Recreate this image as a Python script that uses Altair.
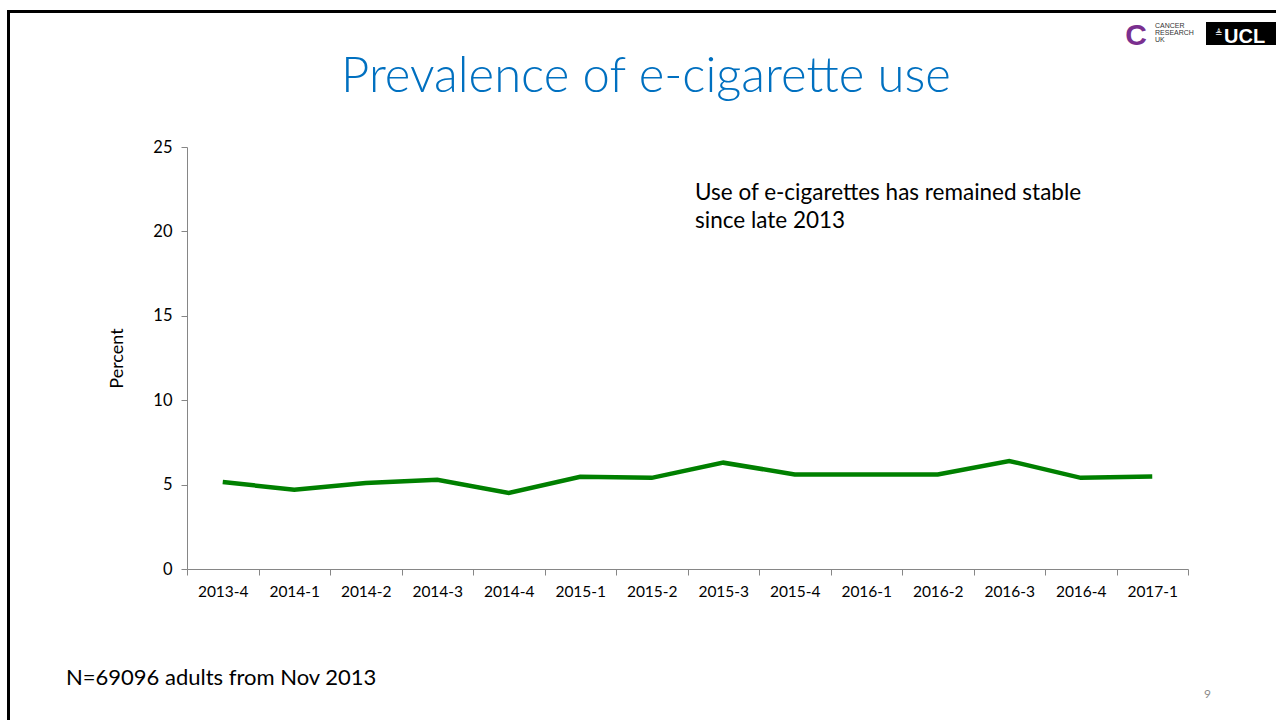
import altair as alt
import pandas as pd

quarters = ["2013-4", "2014-1", "2014-2", "2014-3", "2014-4", "2015-1", "2015-2",
            "2015-3", "2015-4", "2016-1", "2016-2", "2016-3", "2016-4", "2017-1"]
percent = [5.15, 4.7, 5.1, 5.28, 4.5, 5.46, 5.4, 6.3, 5.6, 5.6, 5.6, 6.4, 5.4, 5.48]
y_ticks = [0, 5, 10, 15, 20, 25]

title_text = "Prevalence of e-cigarette use"
note_lines = ["Use of e-cigarettes has remained stable", "since late 2013"]
footer_text = "N=69096 adults from Nov 2013"
page_number = "9"

df = pd.DataFrame({"quarter": quarters, "percent": percent})

FONT = "Lato"
W, H = 1001, 422
L, T = 187, 147

base = alt.Chart(df)

line = base.mark_line(color="#008000", strokeWidth=4.5, strokeJoin="miter").encode(
    x=alt.X("quarter:N", sort=quarters, title=None,
            scale=alt.Scale(paddingInner=0, paddingOuter=0),
            axis=alt.Axis(labelAngle=0, tickBand="extent", labelFont=FONT, labelFontSize=15.5,
                          labelColor="#000000", domainColor="#868686", tickColor="#868686",
                          tickSize=6, labelPadding=9, domainWidth=1)),
    y=alt.Y("percent:Q", title="Percent",
            scale=alt.Scale(domain=[0, 25], nice=False),
            axis=alt.Axis(values=y_ticks, grid=False, labelFont=FONT, labelFontSize=16.5,
                          labelColor="#000000", domainColor="#868686", tickColor="#868686",
                          tickSize=6, labelPadding=9, titleFont=FONT, titleFontSize=18,
                          titleFontWeight="normal", titleColor="#000000", titlePadding=26)),
)

def txt(text, x, y, size, color="#000000", align="left", weight="normal", font=FONT, baseline="alphabetic"):
    return alt.Chart(pd.DataFrame({"t": [text]})).mark_text(
        align=align, baseline=baseline, fontSize=size, color=color, fontWeight=weight, font=font
    ).encode(text="t:N", x=alt.value(x - L), y=alt.value(y - T))

title = txt(title_text, 646, 92, 49, color="#0070C0", align="center", weight=300)
note1 = txt(note_lines[0], 695, 200, 22.5)
note2 = txt(note_lines[1], 695, 228, 22.5)
footer = txt(footer_text, 66, 685, 22)
pnum = txt(page_number, 1204, 698, 12, color="#8c8c8c")

# slide frame
frame_top = alt.Chart(pd.DataFrame({"a": [0]})).mark_rule(color="#000000", strokeWidth=3).encode(
    x=alt.value(7 - L), x2=alt.value(1276 - L), y=alt.value(11.5 - T))
frame_left = alt.Chart(pd.DataFrame({"a": [0]})).mark_rule(color="#000000", strokeWidth=3).encode(
    x=alt.value(8.5 - L), y=alt.value(10 - T), y2=alt.value(720 - T))

# logos
ucl_box = alt.Chart(pd.DataFrame({"a": [0]})).mark_rect(color="#000000").encode(
    x=alt.value(1206 - L), x2=alt.value(1276 - L), y=alt.value(22 - T), y2=alt.value(45 - T))
ucl_text = txt("UCL", 1224, 43, 20, color="#ffffff", weight="bold", font="Liberation Sans")
ucl_mark = txt("≜", 1215, 36, 9, color="#ffffff", font="DejaVu Sans")
cruk_c = txt("C", 1136, 45, 30, color="#7a2f8f", weight="bold", align="center", font="Liberation Sans")
cruk1 = txt("CANCER", 1155, 28, 7, color="#333333", font="Liberation Sans")
cruk2 = txt("RESEARCH", 1155, 35, 7, color="#333333", font="Liberation Sans")
cruk3 = txt("UK", 1155, 42, 7, color="#333333", font="Liberation Sans")

chart = alt.layer(line, title, note1, note2, footer, pnum, frame_top, frame_left,
                  ucl_box, ucl_text, ucl_mark, cruk_c, cruk1, cruk2, cruk3).properties(
    width=W, height=H,
    padding={"left": L, "top": T, "right": 1276 - L - W, "bottom": 720 - T - H},
    autosize=alt.AutoSizeParams(type="none"),
    background="#ffffff",
).configure_view(stroke=None)

chart.save("out.html", embed_options={"renderer": "svg", "actions": False})
